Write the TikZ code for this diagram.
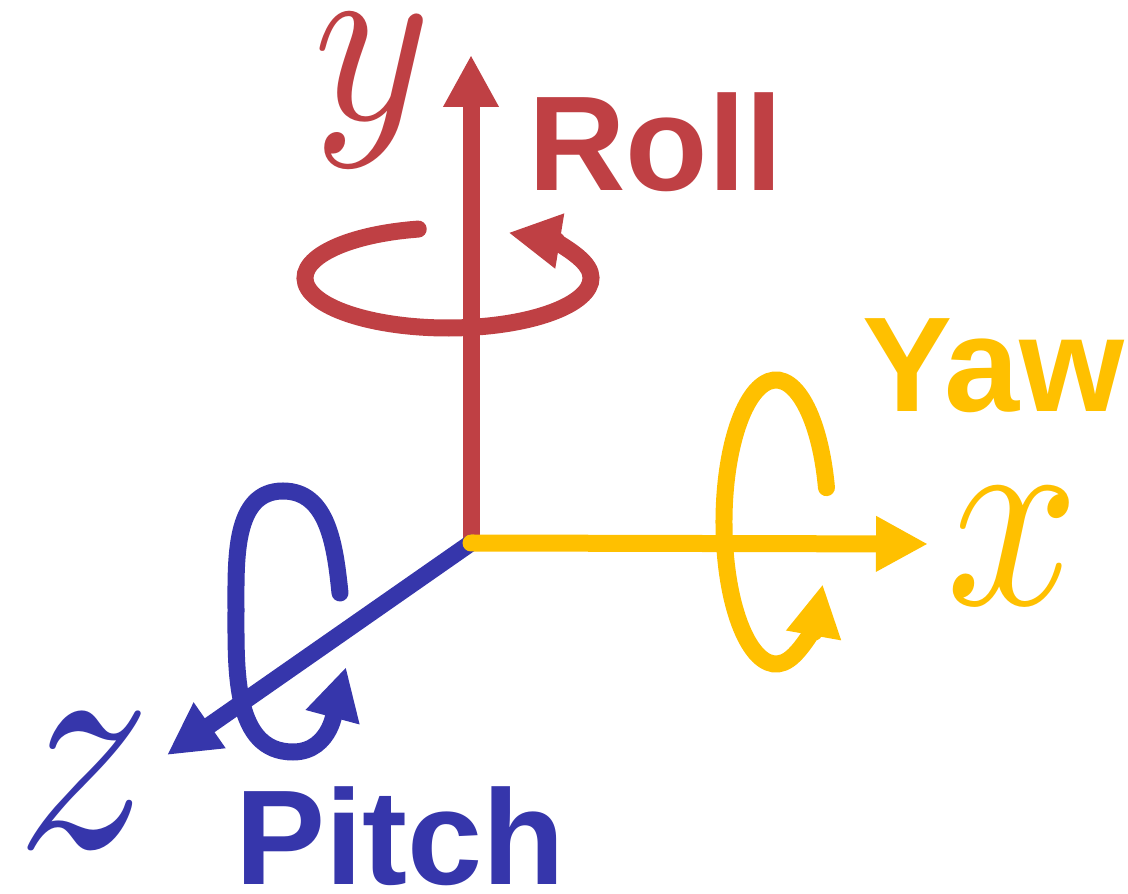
\documentclass[tikz,border=0pt]{standalone}
\usepackage{fontspec}
\setsansfont{Liberation Sans}
\usetikzlibrary{arrows.meta}
\definecolor{axred}{HTML}{BF4044}
\definecolor{axyel}{HTML}{FFC000}
\definecolor{axblue}{HTML}{3636AB}
\tikzset{
  axisline/.style={line width=17pt, line cap=round, -{Triangle[length=52pt,width=52pt]}},
  rotloop/.style={line width=17pt, line cap=round, -{Triangle[length=52pt,width=52pt]}},
  bigword/.style={inner sep=0pt, anchor=base west, font=\sffamily\bfseries\fontsize{135}{135}\selectfont},
  mathletter/.style={inner sep=0pt, anchor=center}
}
\begin{document}
\begin{tikzpicture}[x=1pt,y=1pt]
\useasboundingbox (0,0) rectangle (1128,894);
\coordinate (O) at (471,351);
\coordinate (ytip) at (471,839);
\coordinate (xtip) at (928,350);
\coordinate (ztip) at (167,139);
% y axis and roll
\draw[axisline, axred] (O) -- (ytip);
\draw[rotloop, axred] ([shift={(102:143pt and 50pt)}]448pt,616pt) arc[start angle=102, end angle=425, x radius=143pt, y radius=50pt];
% z axis and pitch
\draw[axisline, axblue] (O) -- (ztip);
\coordinate (p0) at (340,301);
\coordinate (p1) at (283,403);
\coordinate (p2) at (236,284);
\coordinate (p3) at (293,142);
\coordinate (p4) at (346,227);
\draw[rotloop, axblue] (p0) to[out=96,in=0] (p1) to[out=180,in=90] (p2) to[out=270,in=180] (p3) to[out=0,in=255] (p4);
% x axis and yaw
\draw[axisline, axyel] (O) -- (xtip);
\draw[rotloop, axyel] ([shift={(14:52pt and 142pt)}]776pt,372pt) arc[start angle=14, end angle=334, x radius=52pt, y radius=142pt];
% labels
\node[bigword, text=axred] (roll) at (528,703) {Roll};
\node[bigword, text=axyel] (yaw) at (862,482) {Yaw};
\node[bigword, text=axblue] (pitch) at (235,9) {Pitch};
\node[mathletter, text=axred] (ylab) at (372,803) {\scalebox{22.4}[24.5]{$y$}};
\node[mathletter, text=axyel] (xlab) at (1013,348) {\scalebox{23.3}[27]{$x$}};
\node[mathletter, text=axblue] (zlab) at (84,113) {\scalebox{26.7}[30.9]{$z$}};
\end{tikzpicture}
\end{document}
